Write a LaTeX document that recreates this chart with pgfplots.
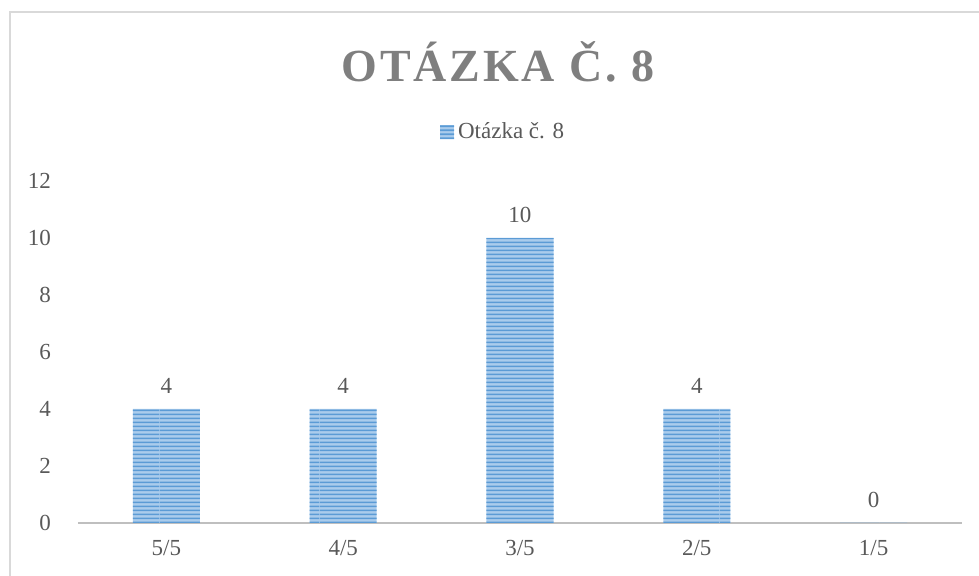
\documentclass[border=0pt]{standalone}
\usepackage{fontspec}
\setmainfont{Liberation Serif}
\usepackage{pgfplots}
\pgfplotsset{compat=1.18}
\usetikzlibrary{patterns.meta}
\definecolor{txtgray}{RGB}{89,89,89}
\definecolor{titlegray}{RGB}{127,127,127}
\definecolor{framegray}{RGB}{217,217,217}
\definecolor{axisgray}{RGB}{191,191,191}
\definecolor{barfill}{RGB}{170,204,236}
\definecolor{barline}{RGB}{91,155,213}
\tikzdeclarepattern{name=hstripes, type=uncolored,
  bounding box={(0,0) and (40pt,2pt)}, tile size={(40pt,2pt)},
  code={\fill (-0.1pt,0.5pt) rectangle (40.1pt,1.5pt);}}

\begin{document}
\begin{tikzpicture}
\useasboundingbox (0,0) rectangle (489.5pt,288pt);
% outer chart frame (only top and left visible)
\draw[framegray, line width=1pt] (5pt,-2pt) -- (5pt,282pt) -- (492pt,282pt);
% title
\node[titlegray, font=\fontsize{23}{28}\selectfont\bfseries\addfontfeature{LetterSpace=6}]
  at (249pt,257pt) {OTÁZKA Č. 8};
\begin{axis}[
  at={(39pt,26.5pt)}, anchor=south west,
  scale only axis, width=442pt, height=171pt,
  xmin=-0.5, xmax=4.5, ymin=0, ymax=12,
  axis x line*=bottom, axis y line*=left,
  x axis line style={axisgray, line width=1.2pt, -},
  y axis line style={draw=none},
  xtick={0,1,2,3,4}, xticklabels={5/5,4/5,3/5,2/5,1/5},
  ytick={0,2,4,6,8,10,12},
  major tick length=0pt,
  yticklabel style={anchor=east, xshift=-10pt},
  xticklabel style={yshift=-5pt},
  tick label style={txtgray, font=\fontsize{11.5}{13}\selectfont},
  /pgf/number format/assume math mode=true,
  clip=false,
  ybar, bar width=33.5pt,
  nodes near coords,
  every node near coord/.append style={txtgray, font=\fontsize{11.5}{13}\selectfont, yshift=4pt},
  legend style={at={(0.482,1.143)}, anchor=center, draw=none, fill=none,
    font=\fontsize{11.5}{13}\selectfont, text=txtgray,
    legend cell align=left},
  legend image code/.code={\draw[#1, draw=none] (0pt,-3.5pt) rectangle (7pt,3.5pt);},
]
\addplot[draw=none, fill=barfill,
  postaction={pattern={hstripes}, pattern color=barline}]
  coordinates {(0,4) (1,4) (2,10) (3,4) (4,0)};
\addlegendentry{Otázka č. 8}
\end{axis}
\end{tikzpicture}
\end{document}
